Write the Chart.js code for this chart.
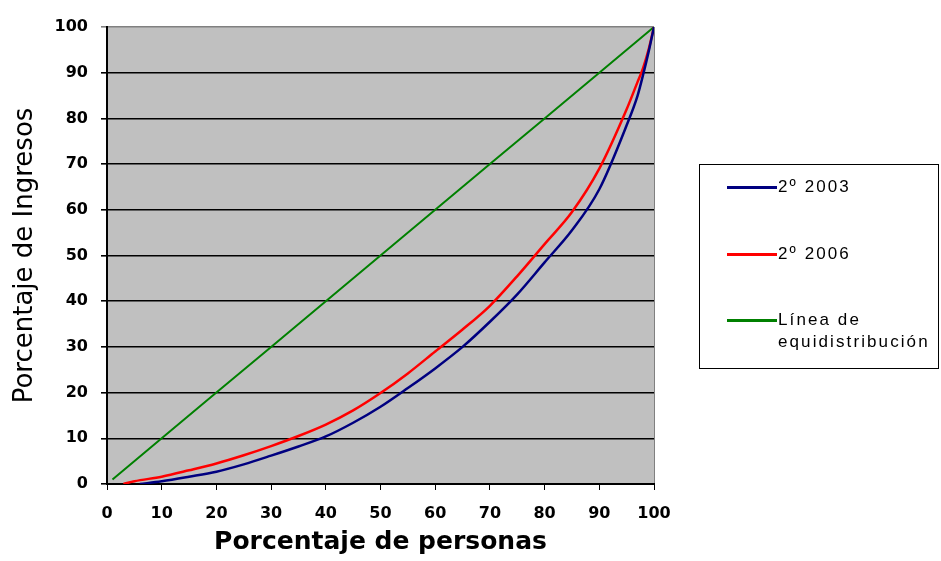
<!DOCTYPE html>
<html>
<head>
<meta charset="utf-8">
<script src="https://cdn.jsdelivr.net/npm/chart.js@4.4.0/dist/chart.umd.min.js"></script>
<style>
  body{margin:0;background:#fff;}
  #wrap{position:relative;width:941px;height:561px;}
  #legend{position:absolute;left:699px;top:164px;width:238px;height:203px;border:1px solid #000;
    font-family:"Liberation Sans",Arial,sans-serif;font-size:17px;letter-spacing:2.1px;color:#000;}
  .item{position:absolute;left:27px;display:flex;align-items:flex-start;}
  .item span.ln{display:inline-block;width:50px;height:3px;margin-top:10px;}
  .item div{line-height:22px;margin-top:0px;margin-left:1px;}
</style>
</head>
<body>
<div id="wrap">
<canvas id="grafico" width="941" height="561"></canvas>
<div id="legend"></div>
</div>
<script>
// porcentaje de personas (eje X) / porcentaje de ingresos (eje Y)
const personas2003 = [6, 10, 15, 20, 25, 30, 35, 40, 45, 50, 55, 60, 65, 70, 75, 80, 85, 90, 95, 97, 98, 99, 100];
const ingresos2003 = [0, 0.6, 1.6, 2.7, 4.3, 6.2, 8.2, 10.4, 13.4, 16.9, 21, 25.3, 30, 35.5, 41.5, 48.5, 55.5, 64.5, 78.5, 85, 89.5, 94.5, 100];

const personas2006 = [3, 5, 10, 15, 20, 25, 30, 35, 40, 45, 50, 55, 60, 65, 70, 75, 80, 85, 90, 95, 97, 98, 99, 100];
const ingresos2006 = [0, 0.6, 1.6, 3.0, 4.5, 6.3, 8.3, 10.5, 13.0, 16.1, 19.9, 24.2, 29, 33.8, 39, 45.5, 52.5, 59.5, 69, 82, 88, 91, 95, 100];

const personasEqui = [1, 10, 20, 30, 40, 50, 60, 70, 80, 90, 100];
const ingresosEqui = [1, 10, 20, 30, 40, 50, 60, 70, 80, 90, 100];

const series = ['2º 2003', '2º 2006', 'Línea de equidistribución'];
const colores = ['#000080', '#FF0000', '#008000'];

function pares(xs, ys){ return xs.map((x,i)=>({x:x, y:ys[i]})); }

const fondo = {
  id:'fondo',
  beforeDraw(chart){
    const a = chart.chartArea, c = chart.ctx;
    c.save();
    c.fillStyle = '#C0C0C0';
    c.fillRect(a.left, a.top, a.right-a.left, a.bottom-a.top);
    c.strokeStyle = '#808080';
    c.lineWidth = 1;
    c.beginPath();
    c.moveTo(a.right+0.5, a.top);
    c.lineTo(a.right+0.5, a.bottom);
    c.stroke();
    c.restore();
  }
};

const fuente = '"DejaVu Sans", Verdana';
const ctx = document.getElementById('grafico').getContext('2d');
const miGrafico = new Chart(ctx, {
  type:'line',
  data:{
    datasets:[
      {label:series[0], data:pares(personas2003, ingresos2003), borderColor:colores[0], borderWidth:2.5, pointRadius:0, cubicInterpolationMode:'monotone'},
      {label:series[1], data:pares(personas2006, ingresos2006), borderColor:colores[1], borderWidth:2.5, pointRadius:0, cubicInterpolationMode:'monotone'},
      {label:series[2], data:pares(personasEqui, ingresosEqui), borderColor:colores[2], borderWidth:2, pointRadius:0, tension:0}
    ]
  },
  options:{
    responsive:false,
    animation:false,
    layout:{padding:{top:27, right:287, left:0, bottom:0}},
    plugins:{legend:{display:false}, tooltip:{enabled:false}},
    scales:{
      x:{
        type:'linear', min:0, max:100,
        ticks:{stepSize:10, color:'#000', padding:14, font:{family:fuente, size:16, weight:'bold'}},
        grid:{drawOnChartArea:false, drawTicks:true, tickLength:6, color:'#000'},
        border:{color:'#000', width:2},
        title:{display:true, text:'Porcentaje de personas', color:'#000', padding:{top:8}, font:{family:fuente, size:25, weight:'bold'}},
        afterFit(s){ s.height = 77; }
      },
      y:{
        min:0, max:100,
        ticks:{stepSize:10, color:'#000', padding:13, font:{family:fuente, size:16, weight:'bold'}},
        grid:{color:(c)=> c.tick && c.tick.value===100 ? '#808080' : '#000', lineWidth:1.6, tickLength:6},
        border:{color:'#000', width:2},
        title:{display:true, text:'Porcentaje de Ingresos', color:'#000', padding:{top:10, bottom:0}, font:{family:fuente, size:26, weight:'normal'}},
        afterFit(s){ s.width = 107; }
      }
    }
  },
  plugins:[fondo]
});

// leyenda
const leyenda = document.getElementById('legend');
const tops = [11, 78, 144];
const textos = ['2º 2003', '2º 2006', 'Línea de<br>equidistribución'];
series.forEach((s,i)=>{
  const d = document.createElement('div');
  d.className = 'item';
  d.style.top = tops[i] + 'px';
  d.innerHTML = '<span class="ln" style="background:'+colores[i]+'"></span><div>'+textos[i]+'</div>';
  leyenda.appendChild(d);
});
</script>
</body>
</html>
